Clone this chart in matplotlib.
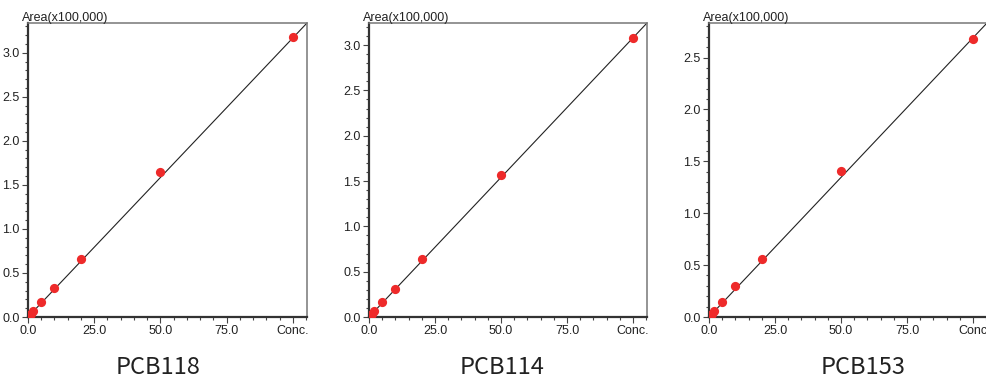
import numpy as np
import matplotlib
matplotlib.use("Agg")
import matplotlib.pyplot as plt
from matplotlib.ticker import MultipleLocator, FixedLocator, FixedFormatter

# calibration data (Area in units of 100,000)
names = ["PCB118", "PCB114", "PCB153"]
conc = [0.5, 1.0, 2.0, 5.0, 10.0, 20.0, 50.0, 100.0]
area_118 = [0.018, 0.035, 0.068, 0.174, 0.333, 0.66, 1.65, 3.18]
area_114 = [0.017, 0.033, 0.066, 0.165, 0.31, 0.64, 1.57, 3.08]
area_153 = [0.015, 0.030, 0.060, 0.147, 0.30, 0.56, 1.41, 2.68]
slopes = [0.0317, 0.0308, 0.0269]  # fitted line, through origin
x_max = 105.3
x_ticks = [0, 25, 50, 75, 100]
x_ticklabels = [
    ["0.0", "25.0", "50.0", "75.0", "Conc."],
    ["0.0", "25.0", "50.0", "75.0", "Conc."],
    ["0.0", "25.0", "50.0", "75.0", "Conc"],  # last panel is clipped at the edge
]

tick_font = ["Liberation Sans Narrow", "Liberation Sans", "DejaVu Sans"]

fig = plt.figure(figsize=(9.86, 3.8), dpi=100)
W, H = 986.0, 380.0
# panel rectangles in pixels: left, right
panels = [(28, 307), (369, 647), (709, 987)]
bottom_px, top_px = 317, 23
title_x = [158, 502, 863]

for i, (areas, name) in enumerate(zip([area_118, area_114, area_153], names)):
    l, r = panels[i]
    ax = fig.add_axes([l / W, 1 - bottom_px / H, (r - l) / W, (bottom_px - top_px) / H])
    y_max = slopes[i] * x_max
    xs = np.array([0, x_max])
    ax.plot(xs, slopes[i] * xs, color="#222222", lw=0.8, zorder=2)
    ax.scatter(conc, areas, s=44, color="#ee2a2a", zorder=3, linewidths=0)
    ax.set_xlim(0, x_max)
    ax.set_ylim(0, y_max)

    ax.xaxis.set_major_locator(FixedLocator(x_ticks))
    ax.xaxis.set_major_formatter(FixedFormatter(x_ticklabels[i]))
    ax.xaxis.set_minor_locator(MultipleLocator(5))
    ax.yaxis.set_major_locator(MultipleLocator(0.5))
    ax.yaxis.set_minor_locator(MultipleLocator(0.1))
    ax.yaxis.set_major_formatter(plt.FuncFormatter(lambda v, p: f"{v:.1f}"))

    ax.tick_params(which="major", length=4, width=0.8, color="#444444", pad=2,
                   labelsize=9, labelcolor="#222222")
    ax.tick_params(which="minor", length=2.5, width=0.8, color="#444444")
    for lab in ax.get_xticklabels() + ax.get_yticklabels():
        lab.set_family(tick_font)

    for side in ["left", "bottom"]:
        ax.spines[side].set_color("#333333")
        ax.spines[side].set_linewidth(1.6)
    for side in ["top", "right"]:
        ax.spines[side].set_color("#777777")
        ax.spines[side].set_linewidth(1.1)

    ax.annotate("Area(x100,000)", xy=(0, 1), xycoords="axes fraction",
                xytext=(-4, -1), textcoords="offset points", ha="left", va="bottom",
                fontsize=9, family=tick_font, color="#222222")

    fig.text(title_x[i] / W, 1 - 368 / H, name, ha="center", va="center",
             fontsize=17, family=["Noto Sans CJK SC", "DejaVu Sans"], color="#222222")

fig.savefig("out.png", dpi=100, facecolor="white")
